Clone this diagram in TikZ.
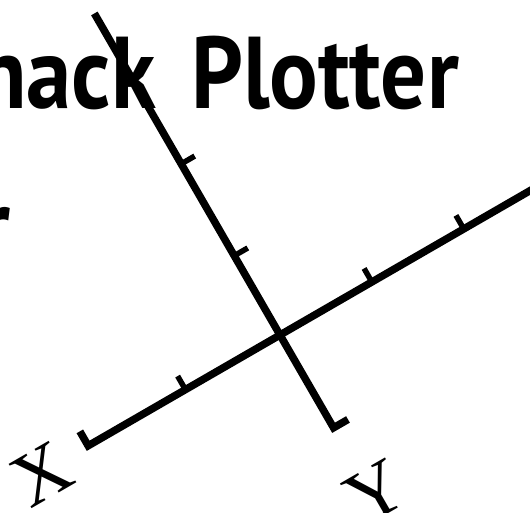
\documentclass[tikz,border=0pt]{standalone}
\usepackage{fontspec}
\newfontfamily\titlefont{PT Sans}
\newfontfamily\labelfont{Liberation Serif}
\usetikzlibrary{calc}

\begin{document}
\begin{tikzpicture}[x=1pt,y=-1pt,
  axisline/.style={line width=7.5pt,line join=miter},
  tickline/.style={line width=5.5pt},
  title/.style={inner sep=0pt,xscale=0.89,font=\fontsize{102}{102}\titlefont\bfseries},
  axislabel/.style={inner sep=0pt,rotate=30,font=\fontsize{76}{76}\labelfont}]
\useasboundingbox (0,0) rectangle (530,512);
\clip (0,0) rectangle (530,512);
% title, cut by the page edge
\node[title,anchor=base east] (head) at (156,108) {hack};
\node[title,anchor=base west] (plot) at (191,108) {Plotter};
\node[title,anchor=base east] (tail) at (11,259) {r};
% the turned axes
\begin{scope}[shift={(280,335)},rotate=30,x=104pt,y=104pt]
\coordinate (o) at (0,0);
\coordinate (xl) at (-2.13,0);
\coordinate (xr) at (3,0);
\coordinate (yt) at (0,3.57);
\coordinate (yb) at (0,-1.03);
\draw[axisline] (xl) ++(0,0.16) -- (xl) -- (xr);
\draw[axisline] (yt) -- (yb) -- ++(0.16,0);
\foreach \t in {-1.05,1.02,2.04}
  \draw[tickline] (\t,0) -- ++(0,0.15);
\foreach \t in {0.88,1.9}
  \draw[tickline] (0,\t) -- ++(0.15,0);
\end{scope}
\node[axislabel] (xname) at (42,474) {X};
\node[axislabel] (yname) at (376,492) {Y};
\end{tikzpicture}
\end{document}
